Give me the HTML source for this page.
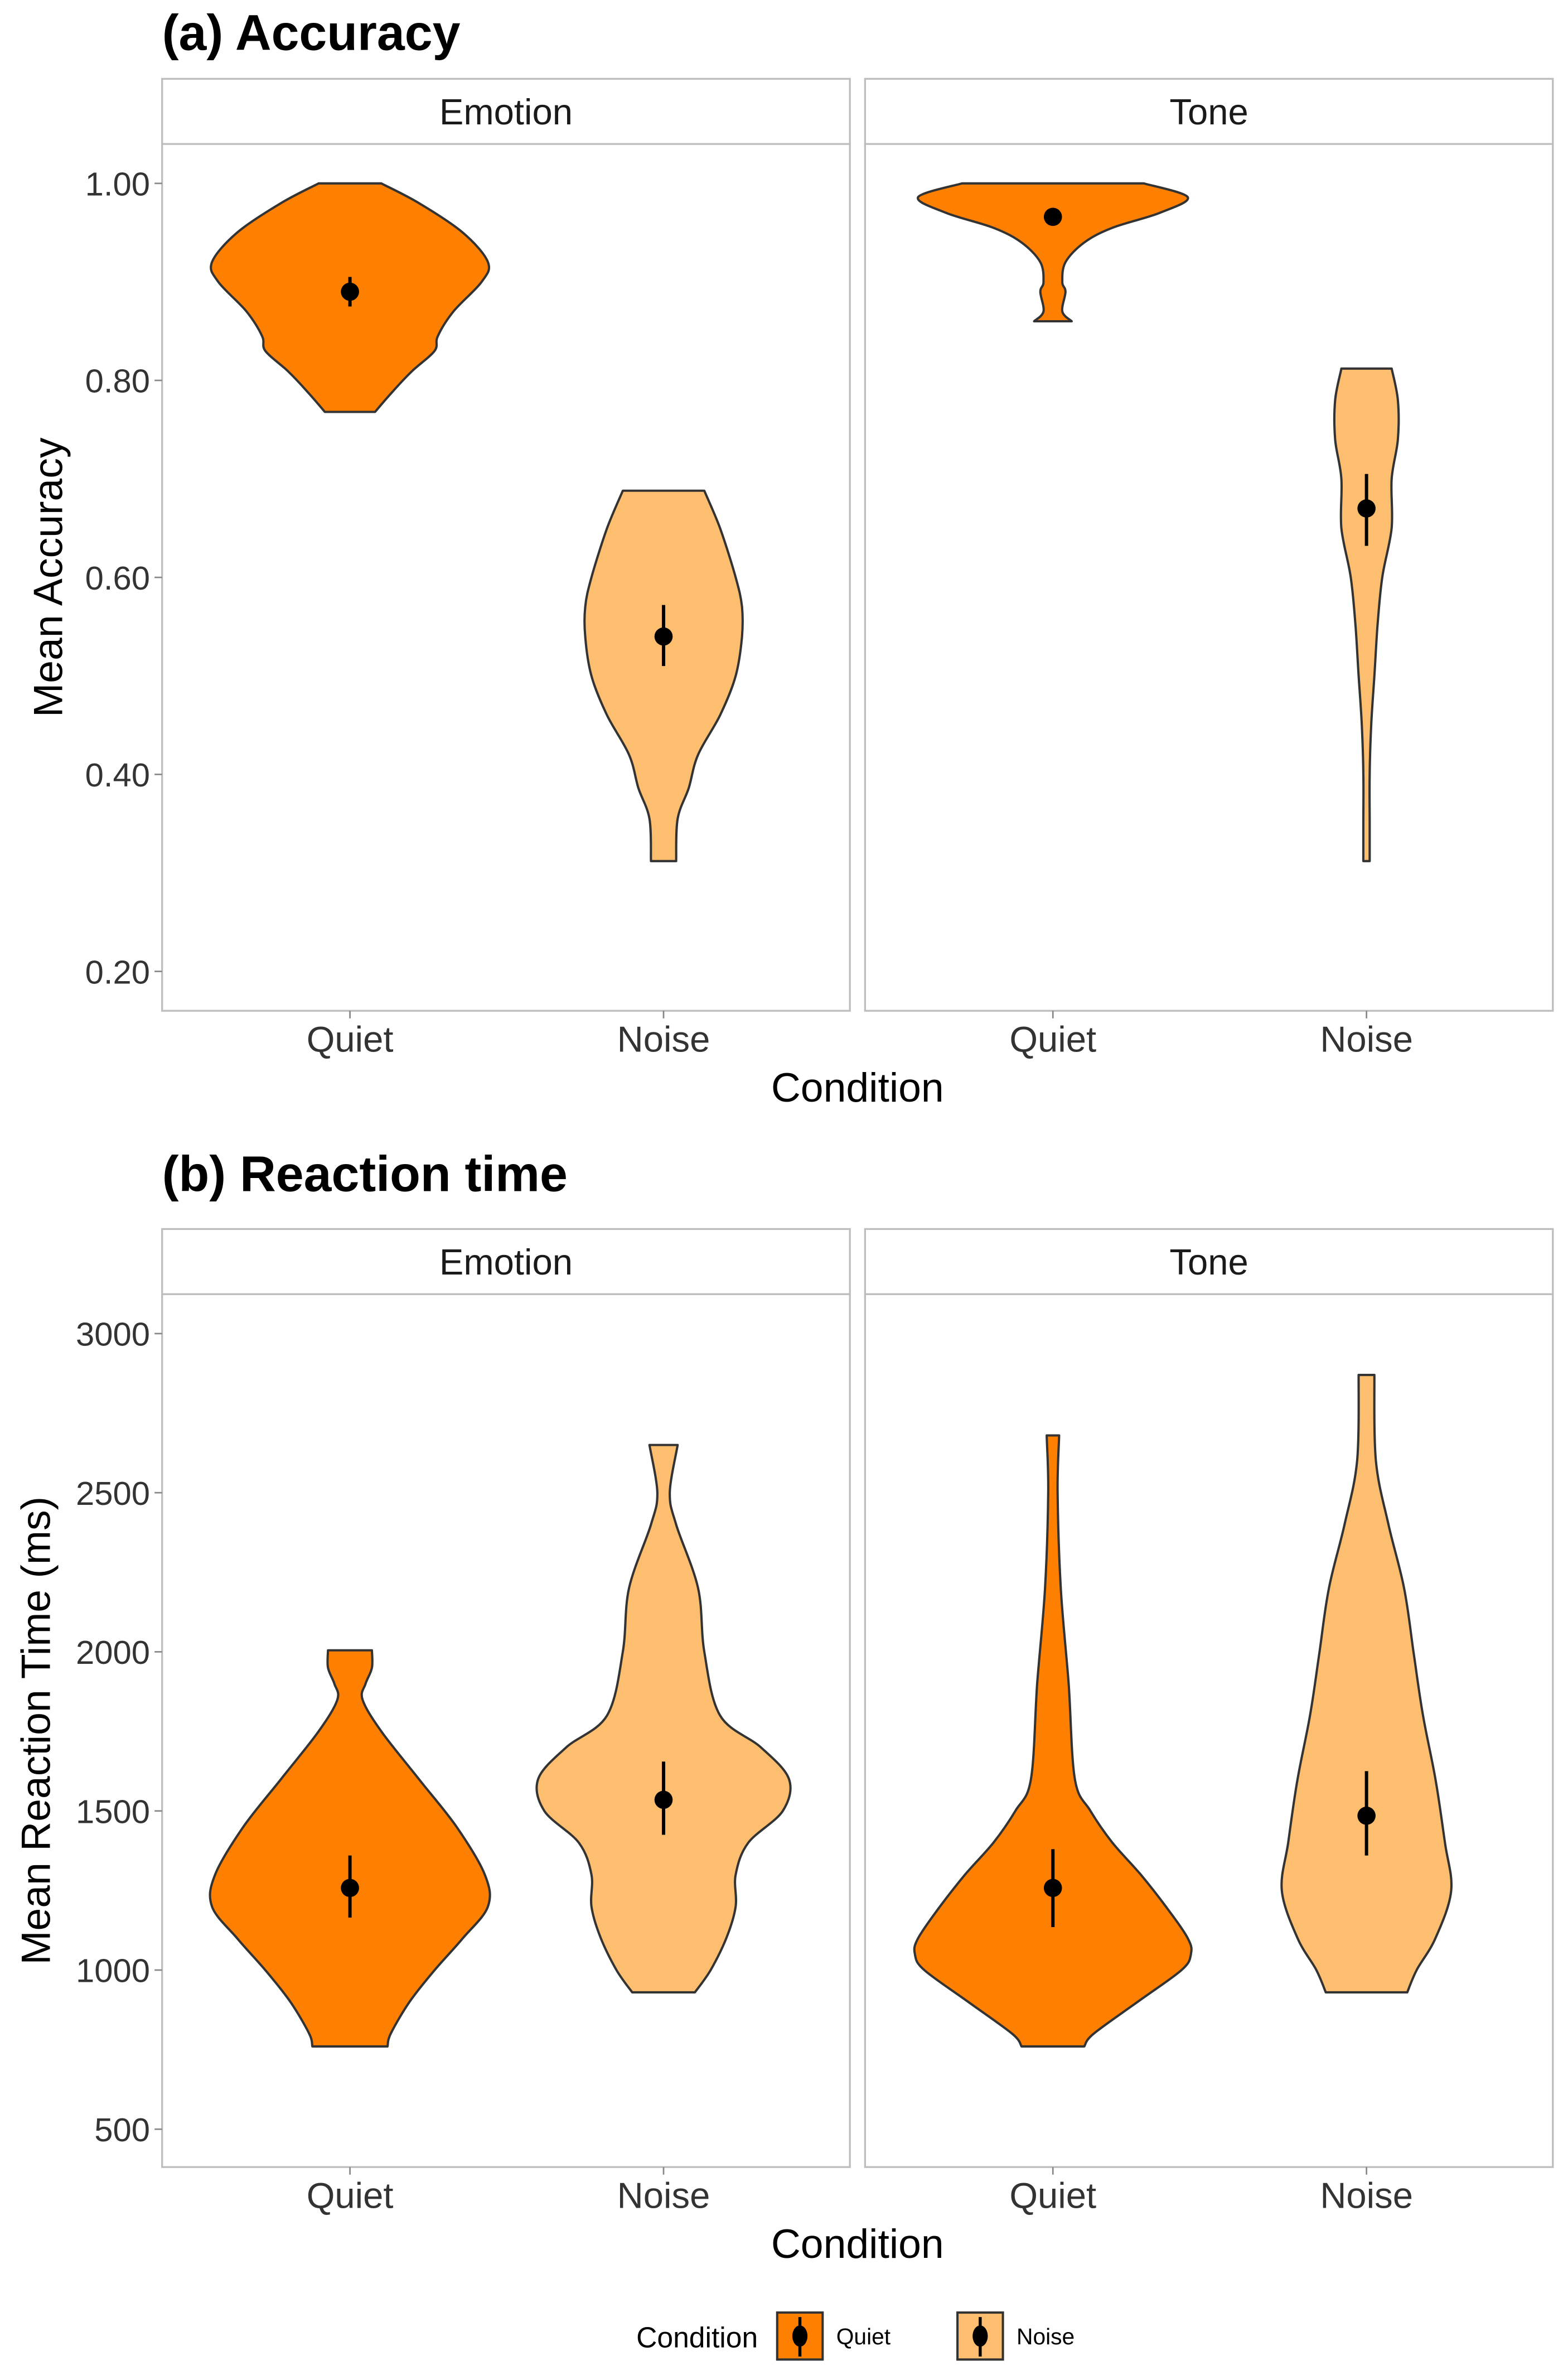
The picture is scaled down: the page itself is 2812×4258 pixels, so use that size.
<!DOCTYPE html>
<html><head><meta charset="utf-8">
<style>
html,body{margin:0;padding:0;background:#fff;}
svg{display:block;}
text{font-family:"Liberation Sans Narrow","Liberation Sans",sans-serif;}
</style></head>
<body>
<svg id="chart" xmlns="http://www.w3.org/2000/svg" width="2812" height="4258" viewBox="0 0 1035 1567.2">
<rect x="0" y="0" width="1035" height="1567.2" fill="#fff"/>
<g id="root"></g>
</svg>
<script>
// ---- data ----
const categories = ["Quiet", "Noise"];
const facets = ["Emotion", "Tone"];
const accTicks = [1.00, 0.80, 0.60, 0.40, 0.20];
const accTickLabels = ["1.00", "0.80", "0.60", "0.40", "0.20"];
const rtTicks = [3000, 2500, 2000, 1500, 1000, 500];
const rtTickLabels = ["3000", "2500", "2000", "1500", "1000", "500"];
// violin profiles: values and half-widths (fraction of category spacing)
const accEmoQuietVals = [1.00, 0.98, 0.95, 0.92, 0.90, 0.87, 0.845, 0.83, 0.81, 0.79, 0.768];
const accEmoQuietDens = [0.10, 0.22, 0.36, 0.44, 0.42, 0.33, 0.28, 0.27, 0.20, 0.14, 0.08];
const accEmoNoiseVals = [0.688, 0.65, 0.60, 0.57, 0.54, 0.50, 0.46, 0.42, 0.386, 0.355, 0.312];
const accEmoNoiseDens = [0.13, 0.18, 0.23, 0.25, 0.25, 0.23, 0.18, 0.11, 0.08, 0.045, 0.04];
const accToneQuietVals = [1.00, 0.986, 0.97, 0.955, 0.94, 0.92, 0.90, 0.89, 0.87, 0.86];
const accToneQuietDens = [0.29, 0.43, 0.34, 0.19, 0.10, 0.04, 0.03, 0.04, 0.03, 0.06];
const accToneNoiseVals = [0.812, 0.78, 0.74, 0.70, 0.65, 0.60, 0.55, 0.50, 0.45, 0.40, 0.35, 0.312];
const accToneNoiseDens = [0.08, 0.10, 0.10, 0.08, 0.08, 0.05, 0.035, 0.025, 0.015, 0.01, 0.01, 0.01];
const rtEmoQuietVals = [2005, 1950, 1900, 1850, 1750, 1600, 1450, 1300, 1200, 1100, 1000, 900, 800, 760];
const rtEmoQuietDens = [0.07, 0.07, 0.05, 0.04, 0.10, 0.22, 0.34, 0.43, 0.44, 0.36, 0.27, 0.19, 0.13, 0.12];
const rtEmoNoiseVals = [2650, 2500, 2400, 2200, 2000, 1800, 1700, 1600, 1500, 1400, 1300, 1200, 1100, 1000, 930];
const rtEmoNoiseDens = [0.045, 0.02, 0.04, 0.11, 0.13, 0.18, 0.31, 0.40, 0.38, 0.27, 0.23, 0.23, 0.20, 0.15, 0.10];
const rtToneQuietVals = [2680, 2500, 2200, 1900, 1600, 1500, 1400, 1300, 1200, 1100, 1050, 1000, 900, 800, 760];
const rtToneQuietDens = [0.02, 0.015, 0.025, 0.05, 0.07, 0.12, 0.19, 0.28, 0.36, 0.43, 0.44, 0.41, 0.27, 0.13, 0.10];
const rtToneNoiseVals = [2870, 2600, 2400, 2200, 2000, 1800, 1600, 1400, 1250, 1100, 1000, 930];
const rtToneNoiseDens = [0.025, 0.03, 0.07, 0.12, 0.15, 0.18, 0.22, 0.25, 0.27, 0.22, 0.16, 0.13];
const accMeans = [0.89, 0.54, 0.966, 0.67];
const accLow = [0.875, 0.51, 0.966, 0.632];
const accHigh = [0.905, 0.572, 0.966, 0.705];
const rtMeans = [1258, 1535, 1258, 1485];
const rtLow = [1165, 1425, 1135, 1360];
const rtHigh = [1360, 1655, 1380, 1625];

// ---- layout ----
const NS = "http://www.w3.org/2000/svg";
const root = document.getElementById("root");
function mk(tag, attrs, parent, txt){
  const e = document.createElementNS(NS, tag);
  for (const k in attrs) e.setAttribute(k, attrs[k]);
  if (txt !== undefined) e.textContent = txt;
  (parent || root).appendChild(e);
  return e;
}
const panelX = [[107, 561], [571, 1025]];
const catX = [[231, 438], [695, 902]];
const catStep = 207;
const fills = ["#FF7F00", "#FDBF6F"];

function smooth(pts){
  let d = "";
  for (let i = 0; i < pts.length - 1; i++){
    const p0 = pts[Math.max(0, i - 1)], p1 = pts[i], p2 = pts[i + 1], p3 = pts[Math.min(pts.length - 1, i + 2)];
    const c1x = p1[0] + (p2[0] - p0[0]) / 6, c1y = p1[1] + (p2[1] - p0[1]) / 6;
    const c2x = p2[0] - (p3[0] - p1[0]) / 6, c2y = p2[1] - (p3[1] - p1[1]) / 6;
    d += " C" + c1x.toFixed(1) + "," + c1y.toFixed(1) + " " + c2x.toFixed(1) + "," + c2y.toFixed(1) + " " + p2[0].toFixed(1) + "," + p2[1].toFixed(1);
  }
  return d;
}

function drawBlock(cfg){
  const yScale = cfg.yScale;
  const g = mk("g", {});
  
  
  const t = mk("text", {x: 107, y: cfg.titleY, "font-size": 33, "font-weight": "bold", fill: "#000", style: "font-family:'Liberation Sans',sans-serif"}, g, cfg.title);
  
  
  for (let f = 0; f < 2; f++){
    const [x0, x1] = panelX[f];
    const strip = mk("rect", {x: x0, y: cfg.stripTop, width: x1 - x0, height: cfg.stripBot - cfg.stripTop, fill: "#fff", stroke: "#bdbdbd", "stroke-width": 1.2}, g);
    
    
    const st = mk("text", {x: (x0 + x1) / 2, y: cfg.stripTop + 30, "text-anchor": "middle", "font-size": 24, fill: "#1a1a1a"}, g, facets[f]);
    
    
    const pr = mk("rect", {x: x0, y: cfg.stripBot, width: x1 - x0, height: cfg.plotBot - cfg.stripBot, fill: "#fff", stroke: "#bdbdbd", "stroke-width": 1.2}, g);
    
    
    for (let c = 0; c < 2; c++){
      const cx = catX[f][c];
      mk("line", {x1: cx, x2: cx, y1: cfg.plotBot, y2: cfg.plotBot + 5, stroke: "#888", "stroke-width": 1}, g);
      const xl = mk("text", {x: cx, y: cfg.plotBot + 27, "text-anchor": "middle", "font-size": 24, fill: "#333"}, g, categories[c]);
      
      
      const k = f * 2 + c;
      const vals = cfg.vals[k], dens = cfg.dens[k];
      const right = [], left = [];
      for (let i = 0; i < vals.length; i++){
        const y = yScale(vals[i]);
        const w = dens[i] * catStep;
        right.push([cx + w, y]);
        left.unshift([cx - w, y]);
      }
      let d = "M" + right[0][0].toFixed(1) + "," + right[0][1].toFixed(1) + smooth(right);
      d += " L" + left[0][0].toFixed(1) + "," + left[0][1].toFixed(1) + smooth(left) + " Z";
      const v = mk("path", {d: d, fill: fills[c], stroke: "#333", "stroke-width": 1.5, "stroke-linejoin": "round"}, g);
      
      
      const el = mk("line", {x1: cx, x2: cx, y1: yScale(cfg.low[k]), y2: yScale(cfg.high[k]), stroke: "#000", "stroke-width": 2.2}, g);
      
      
      const p = mk("circle", {cx: cx, cy: yScale(cfg.means[k]), r: 6, fill: "#000"}, g);
      
      
    }
  }
  for (let i = 0; i < cfg.ticks.length; i++){
    const y = yScale(cfg.ticks[i]);
    mk("line", {x1: 102, x2: 107, y1: y, y2: y, stroke: "#888", "stroke-width": 1}, g);
    const tl = mk("text", {x: 99, y: y + 8, "text-anchor": "end", "font-size": 22, fill: "#333"}, g, cfg.tickLabels[i]);
    
    
  }
  const cy = (cfg.stripBot + cfg.plotBot) / 2;
  const yt = mk("text", {x: 0, y: 0, "text-anchor": "middle", "font-size": 27, fill: "#000", transform: "translate(" + cfg.yTitleX + "," + cy + ") rotate(-90)", style: "font-family:'Liberation Sans',sans-serif"}, g, cfg.yTitle);
  
  
  const xt = mk("text", {x: 566, y: cfg.plotBot + 60, "text-anchor": "middle", "font-size": 27, fill: "#000"}, g, "Condition");
  
  
}

drawBlock({
  name: "accuracy-panel", title: "(a) Accuracy", titleY: 33,
  stripTop: 52, stripBot: 95, plotBot: 667,
  yScale: v => 121 + (1.0 - v) * 650,
  ticks: accTicks, tickLabels: accTickLabels,
  vals: [accEmoQuietVals, accEmoNoiseVals, accToneQuietVals, accToneNoiseVals],
  dens: [accEmoQuietDens, accEmoNoiseDens, accToneQuietDens, accToneNoiseDens],
  means: accMeans, low: accLow, high: accHigh,
  yTitle: "Mean Accuracy", yTitleX: 41
});
drawBlock({
  name: "reaction-time-panel", title: "(b) Reaction time", titleY: 786,
  stripTop: 811, stripBot: 854, plotBot: 1430,
  yScale: v => 880 + (3000 - v) * 105 / 500,
  ticks: rtTicks, tickLabels: rtTickLabels,
  vals: [rtEmoQuietVals, rtEmoNoiseVals, rtToneQuietVals, rtToneNoiseVals],
  dens: [rtEmoQuietDens, rtEmoNoiseDens, rtToneQuietDens, rtToneNoiseDens],
  means: rtMeans, low: rtLow, high: rtHigh,
  yTitle: "Mean Reaction Time (ms)", yTitleX: 33
});

// legend
const lg = mk("g", {});


const lt = mk("text", {x: 420, y: 1549, "font-size": 19, fill: "#000"}, lg, "Condition");


const keyX = [513, 632];
for (let c = 0; c < 2; c++){
  const kx = keyX[c];
  const kb = mk("rect", {x: kx, y: 1526, width: 30, height: 31, fill: fills[c], stroke: "#333", "stroke-width": 1.5}, lg);
  
  
  mk("line", {x1: kx + 15, x2: kx + 15, y1: 1529, y2: 1555, stroke: "#000", "stroke-width": 2}, lg);
  mk("ellipse", {cx: kx + 15, cy: 1541.5, rx: 5, ry: 7, fill: "#000"}, lg);
  const ll = mk("text", {x: kx + 39, y: 1547, "font-size": 15, fill: "#000"}, lg, categories[c]);
  
  
}
</script>
</body></html>
